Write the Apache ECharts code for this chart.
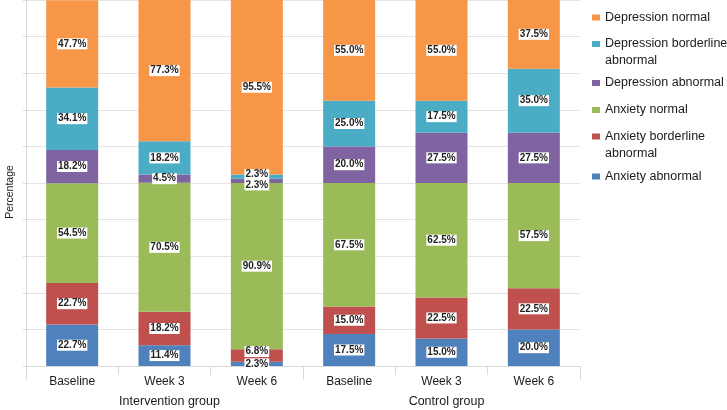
<!DOCTYPE html>
<html><head><meta charset="utf-8">
<script src="https://cdn.jsdelivr.net/npm/echarts@6/dist/echarts.min.js"></script>
<style>html,body{margin:0;padding:0;background:#fff}#c{width:727px;height:410px}</style>
</head><body><div id="c"></div>
<script>
const categories = ['Baseline', 'Week 3', 'Week 6', 'Baseline', 'Week 3', 'Week 6'];
const groups = ['Intervention group', 'Control group'];
const seriesNames = ['Anxiety abnormal', 'Anxiety borderline abnormal', 'Anxiety normal',
  'Depression abnormal', 'Depression borderline abnormal', 'Depression normal'];
const anxietyAbnormal = [22.7, 11.4, 2.3, 17.5, 15.0, 20.0];
const anxietyBorderline = [22.7, 18.2, 6.8, 15.0, 22.5, 22.5];
const anxietyNormal = [54.5, 70.5, 90.9, 67.5, 62.5, 57.5];
const depressionAbnormal = [18.2, 4.5, 2.3, 20.0, 27.5, 27.5];
const depressionBorderline = [34.1, 18.2, 2.3, 25.0, 17.5, 35.0];
const depressionNormal = [47.7, 77.3, 95.5, 55.0, 55.0, 37.5];
const yTicks = [0, 20, 40, 60, 80, 100, 120, 140, 160, 180, 200];

const values = [anxietyAbnormal, anxietyBorderline, anxietyNormal, depressionAbnormal, depressionBorderline, depressionNormal];
const colors = ['#4F81BD', '#C0504D', '#9BBB59', '#8064A2', '#4BACC6', '#F79646'];
// label nudges for crowded small segments: [seriesIndex, dataIndex, dy]
const nudges = [[1, 2, -4], [3, 2, 4], [4, 2, -2]];
const FONT = "'Liberation Sans', Arial, sans-serif";

const series = values.map((arr, si) => ({
  name: seriesNames[si],
  type: 'bar',
  stack: 'total',
  barWidth: 52,
  itemStyle: { color: colors[si] },
  label: {
    show: true, position: 'inside',
    formatter: p => p.value.toFixed(1) + '%',
    fontFamily: FONT, fontSize: 10, fontWeight: 'bold', color: '#222',
    backgroundColor: '#fff', padding: [1, 1, 0, 1], lineHeight: 10
  },
  data: arr.map((v, di) => {
    const n = nudges.find(x => x[0] === si && x[1] === di);
    return n ? { value: v, label: { offset: [0, n[2]] } } : v;
  })
}));

// legend: top-to-bottom order with centers of first text line
const legendOrder = [5, 4, 3, 2, 1, 0];
const legendCenters = [16, 42.5, 81.5, 108.5, 135, 175];
const wrapped = { 'Depression borderline abnormal': 'Depression borderline\nabnormal',
                  'Anxiety borderline abnormal': 'Anxiety borderline\nabnormal' };
const legends = legendOrder.map((si, k) => {
  const name = seriesNames[si];
  const two = !!wrapped[name];
  return {
    data: [name], orient: 'vertical', left: 592, top: legendCenters[k] - 7, padding: 0,
    itemWidth: 8, itemHeight: two ? 23 : 6,
    icon: two ? 'path://M0,0L8,0L8,6L0,6Z M0,23L8,23' : 'rect',
    itemStyle: { borderWidth: 0 },
    selectedMode: false,
    formatter: n => wrapped[n] || n,
    textStyle: { fontFamily: FONT, fontSize: 12.5, color: '#1a1a1a', lineHeight: 17 }
  };
});

const chart = echarts.init(document.getElementById('c'));
chart.setOption({
  animation: false,
  backgroundColor: '#fff',
  legend: legends,
  grid: { left: 26, right: 147, top: 0, bottom: 44, containLabel: false, outerBoundsMode: 'none' },
  xAxis: [{
    type: 'category', data: categories,
    axisLine: { lineStyle: { color: '#d9d9d9' } },
    axisTick: { show: true, length: 9, lineStyle: { color: '#d9d9d9' } },
    axisLabel: { fontFamily: FONT, fontSize: 12, color: '#1a1a1a', margin: 10 },
    splitLine: { show: false }
  }, {
    type: 'category', data: groups, position: 'bottom',
    axisLine: { show: false },
    axisTick: { show: true, length: 14, lineStyle: { color: '#d9d9d9' } },
    axisLabel: { fontFamily: FONT, fontSize: 12.5, color: '#1a1a1a', margin: 29, padding: [0, 0, 0, 10] },
    splitLine: { show: false }
  }],
  yAxis: {
    type: 'value', min: yTicks[0], max: yTicks[yTicks.length - 1], interval: yTicks[1] - yTicks[0],
    name: 'Percentage', nameLocation: 'middle', nameGap: 10,
    nameTextStyle: { fontFamily: FONT, fontSize: 10.5, color: '#1a1a1a', padding: [0, 18, 0, 0] },
    axisLine: { show: true, lineStyle: { color: '#d9d9d9' } },
    axisTick: { show: true, length: 3, lineStyle: { color: '#d9d9d9' } },
    axisLabel: { show: false },
    splitLine: { lineStyle: { color: '#e3e3e3' } }
  },
  series: series
});
</script></body></html>
